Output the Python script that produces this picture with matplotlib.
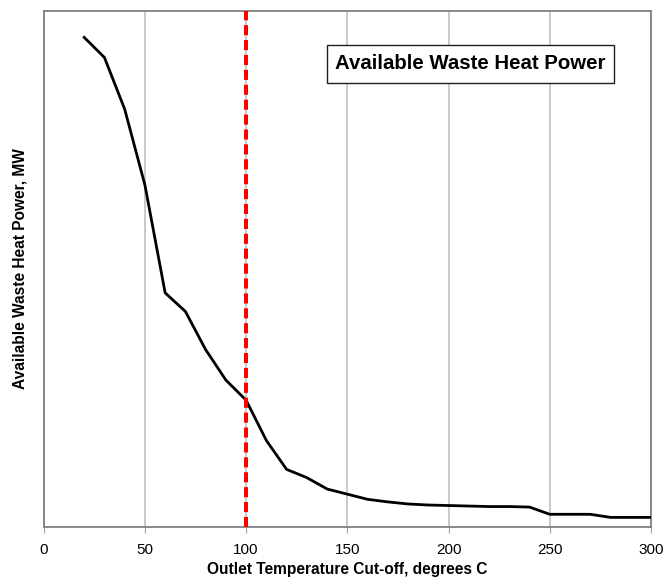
import matplotlib
matplotlib.use("Agg")
import matplotlib.pyplot as plt
from matplotlib.patches import Rectangle

plt.rcParams['font.family'] = ['Liberation Sans', 'DejaVu Sans']

# Outlet temperature cut-off (deg C) and available power (relative MW)
temps = [20, 30, 40, 50, 60, 70, 80, 90, 100, 110, 120, 130, 140, 150, 160,
         170, 180, 190, 200, 210, 220, 230, 240, 250, 260, 270, 280, 290, 300]
power = [94.8, 90.9, 80.9, 66.2, 45.3, 41.7, 34.3, 28.4, 24.5, 16.7, 11.1, 9.5,
         7.3, 6.3, 5.3, 4.8, 4.4, 4.2, 4.1, 4.0, 3.9, 3.9, 3.8, 2.4, 2.4, 2.4,
         1.8, 1.8, 1.8]
cutoff = 100
xticks = [0, 50, 100, 150, 200, 250, 300]


def main():
	fig = plt.figure(figsize=(6.67, 5.77), dpi=100)
	ax = fig.add_axes([0.0655, 0.0872, 0.9105, 0.8946])

	ax.plot(temps, power, color='black', lw=2.0, zorder=3)
	ax.axvline(cutoff, color='#ff0000', lw=2.9, linestyle=(0, (2.5, 1.2)), zorder=4)

	ax.set_xlim(0, 300)
	ax.set_ylim(0, 100)
	ax.set_xticks(xticks)
	ax.set_yticks([])
	ax.grid(axis='x', color='#c0c0c0', lw=1.2, zorder=0)
	for s in ax.spines.values():
		s.set_color('#808080')
		s.set_linewidth(1.3)
	ax.tick_params(axis='x', direction='out', length=4, color='#a0a0a0',
		labelsize=11, pad=8)

	ax.set_xlabel("Outlet Temperature Cut-off, degrees C", fontsize=11.2,
		fontweight='bold', labelpad=3)
	ax.set_ylabel("Available Waste Heat Power, MW", fontsize=11.2,
		fontweight='bold', labelpad=12)

	# title box
	ax.add_patch(Rectangle((0.466, 0.860), 0.473, 0.073, transform=ax.transAxes,
		facecolor='white', edgecolor='#202020', lw=1.0, zorder=5))
	ax.text(0.7025, 0.8966, "Available Waste Heat Power", transform=ax.transAxes,
		ha='center', va='center', fontsize=14.7, fontweight='bold', zorder=6)

	fig.savefig("out.png", dpi=100)


if __name__ == "__main__":
	main()
